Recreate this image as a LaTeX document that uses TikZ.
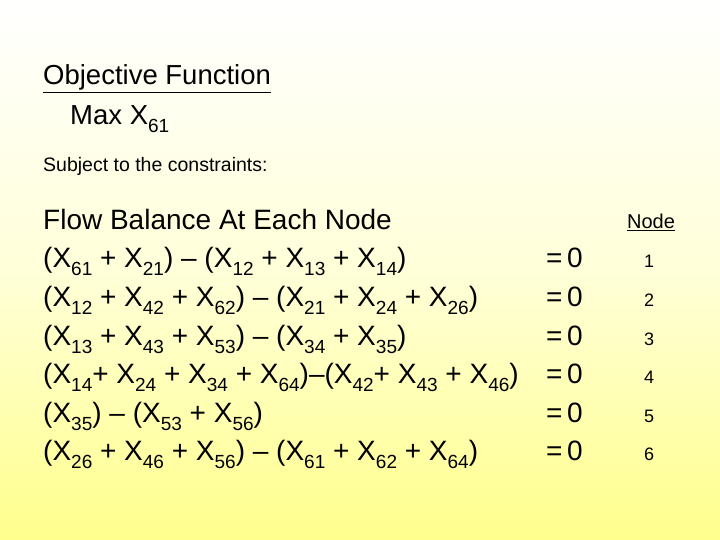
\documentclass[tikz,border=0pt]{standalone}
\usepackage{fontspec}
\setmainfont{Liberation Sans}
\newcommand{\subx}[1]{\raisebox{-0.28em}{\fontsize{19}{19}\selectfont #1}}
\begin{document}
\begin{tikzpicture}[x=1pt,y=1pt,
  big/.style={anchor=base west,inner sep=0pt,font=\fontsize{28}{28}\selectfont},
  mid/.style={anchor=base west,inner sep=0pt,font=\fontsize{27.5}{28}\selectfont},
  sm/.style={anchor=base west,inner sep=0pt,font=\fontsize{19.5}{20}\selectfont},
  num/.style={anchor=base,inner sep=0pt,font=\fontsize{18}{18}\selectfont}]
\shade[top color=white,bottom color=yellow!45!white,middle color=yellow!15!white] (0,0) rectangle (720,540);
\useasboundingbox (0,0) rectangle (720,540);
\node[mid] (obj) at (43,455) {\underline{Objective Function}};
\node[mid] (max) at (70,415) {Max X\subx{61}};
\node[sm] (sub) at (43,368) {Subject to the constraints:};
\node[big] (flow) at (43,310) {Flow Balance At Each Node};
\node[num,font=\fontsize{20}{20}\selectfont] (nh) at (651,311) {\underline{Node}};
\foreach \i/\t in {1/{(X\subx{61} + X\subx{21}) – (X\subx{12} + X\subx{13} + X\subx{14})},
 2/{(X\subx{12} + X\subx{42} + X\subx{62}) – (X\subx{21} + X\subx{24} + X\subx{26})},
 3/{(X\subx{13} + X\subx{43} + X\subx{53}) – (X\subx{34} + X\subx{35})},
 4/{(X\subx{14}+ X\subx{24} + X\subx{34} + X\subx{64})–(X\subx{42}+ X\subx{43} + X\subx{46})},
 5/{(X\subx{35}) – (X\subx{53} + X\subx{56})},
 6/{(X\subx{26} + X\subx{46} + X\subx{56}) – (X\subx{61} + X\subx{62} + X\subx{64})}}{
  \pgfmathsetmacro{\yy}{540-268-38.6*(\i-1)}
  \node[big] (r\i) at (43,\yy) {\t};
  \node[big] (e\i) at (546,\yy) {=\,0};
  \node[num] (n\i) at (649,\yy) {\i};
}
\end{tikzpicture}
\end{document}
